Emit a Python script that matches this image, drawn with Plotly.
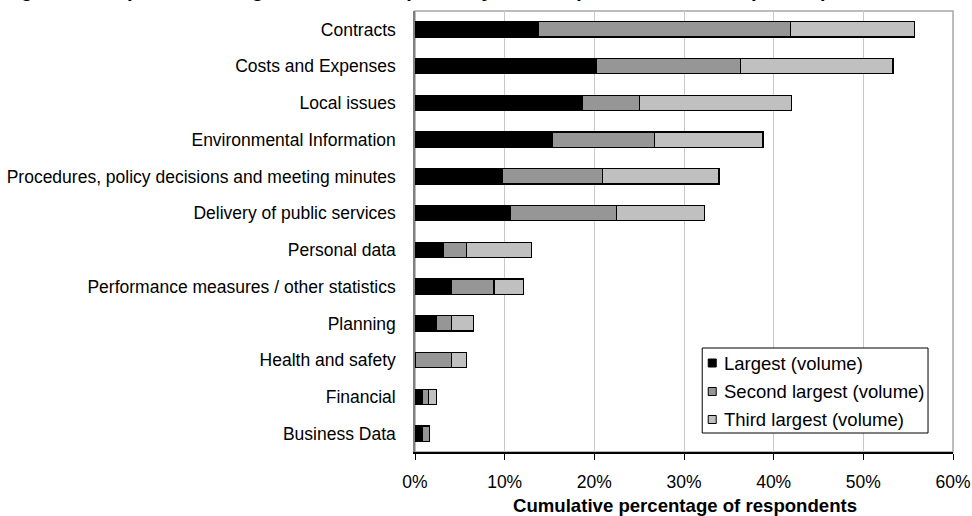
import plotly.graph_objects as go

# Request categories, top to bottom
categories = [
    "Contracts",
    "Costs and Expenses",
    "Local issues",
    "Environmental Information",
    "Procedures, policy decisions and meeting minutes",
    "Delivery of public services",
    "Personal data",
    "Performance measures / other statistics",
    "Planning",
    "Health and safety",
    "Financial",
    "Business Data",
]

# Percentage of respondents naming each category (stacked segments)
largest = [13.8, 20.2, 18.7, 15.3, 9.7, 10.6, 3.2, 4.1, 2.4, 0.0, 0.8, 0.8]
second_largest = [28.1, 16.1, 6.3, 11.4, 11.2, 11.9, 2.5, 4.7, 1.7, 4.1, 0.7, 0.8]
third_largest = [13.8, 17.0, 17.0, 12.1, 13.0, 9.8, 7.3, 3.3, 2.4, 1.6, 0.9, 0.0]

series_names = ["Largest (volume)", "Second largest (volume)", "Third largest (volume)"]
series_values = [largest, second_largest, third_largest]
series_colors = ["#000000", "#969696", "#c0c0c0"]

x_ticks = [0, 10, 20, 30, 40, 50, 60]
x_tick_labels = ["0%", "10%", "20%", "30%", "40%", "50%", "60%"]

FONT = "Liberation Sans, Arial, sans-serif"

# Plot area in pixels
PLOT_L, PLOT_R, PLOT_T, PLOT_B = 414.5, 953.0, 11.0, 452.0
W, H = 972, 516

def px_to_paper_x(px):
    return (px - PLOT_L) / (PLOT_R - PLOT_L)

def px_to_paper_y(py):
    return 1 - (py - PLOT_T) / (PLOT_B - PLOT_T)

fig = go.Figure()
for name, vals, col in zip(series_names, series_values, series_colors):
    fig.add_trace(go.Bar(
        y=categories, x=vals, name=name, orientation="h",
        marker=dict(color=col, line=dict(color="#000000", width=1.2)),
        showlegend=False,
    ))

# Plot frame: grey top/right edges
fig.add_shape(type="rect", xref="paper", yref="paper", x0=0, x1=1, y0=0, y1=1,
              line=dict(color="#a6a6a6", width=1.5), layer="below")

# Boxed legend
fig.add_shape(type="rect", xref="paper", yref="paper",
              x0=px_to_paper_x(702), x1=px_to_paper_x(928),
              y0=px_to_paper_y(433), y1=px_to_paper_y(348),
              line=dict(color="#000000", width=1), fillcolor="#ffffff", layer="above")
row_y = [363, 391.5, 419.5]
for name, col, ry in zip(series_names, series_colors, row_y):
    fig.add_shape(type="rect", xref="paper", yref="paper",
                  x0=px_to_paper_x(708), x1=px_to_paper_x(716),
                  y0=px_to_paper_y(ry + 4), y1=px_to_paper_y(ry - 4),
                  line=dict(color="#000000", width=1), fillcolor=col, layer="above")
    fig.add_annotation(xref="paper", yref="paper", x=px_to_paper_x(722), y=px_to_paper_y(ry),
                       xanchor="left", yanchor="middle", showarrow=False, text=name,
                       font=dict(family=FONT, size=18.5, color="#000000"))

# Figure title (runs off the top edge)
fig.add_annotation(xref="paper", yref="paper", x=px_to_paper_x(0), y=px_to_paper_y(-10),
                   xanchor="left", yanchor="middle", showarrow=False,
                   text="<b>Figure 10: Top twelve categories of FOI requests by volume (all authorities' responses)</b>",
                   font=dict(family=FONT, size=20, color="#000000"))

# Horizontal axis title
fig.add_annotation(xref="paper", yref="paper", x=px_to_paper_x(685), y=px_to_paper_y(505),
                   xanchor="center", yanchor="middle", showarrow=False,
                   text="<b>Cumulative percentage of respondents</b>",
                   font=dict(family=FONT, size=18.6, color="#000000"))

fig.update_layout(
    barmode="stack",
    bargap=0.59,
    width=W, height=H,
    margin=dict(l=PLOT_L, r=W - PLOT_R, t=PLOT_T, b=H - PLOT_B, autoexpand=False),
    paper_bgcolor="#ffffff", plot_bgcolor="#ffffff",
    font=dict(family=FONT, size=17.5, color="#000000"),
    xaxis=dict(
        range=[0, 60], tickvals=x_ticks, ticktext=x_tick_labels,
        showgrid=True, gridcolor="#c8c8c8", gridwidth=1,
        showline=True, linecolor="#000000", linewidth=1.5,
        ticks="outside", ticklen=6, tickcolor="#000000", tickwidth=1,
        ticklabelstandoff=7,
        tickfont=dict(size=17.5), zeroline=False, automargin=False,
    ),
    yaxis=dict(
        autorange="reversed", showgrid=False, automargin=False,
        showline=True, linecolor="#808080", linewidth=1.5,
        ticks="", ticklabelstandoff=14, tickfont=dict(size=17.5),
    ),
)

fig.write_html("out.html")
